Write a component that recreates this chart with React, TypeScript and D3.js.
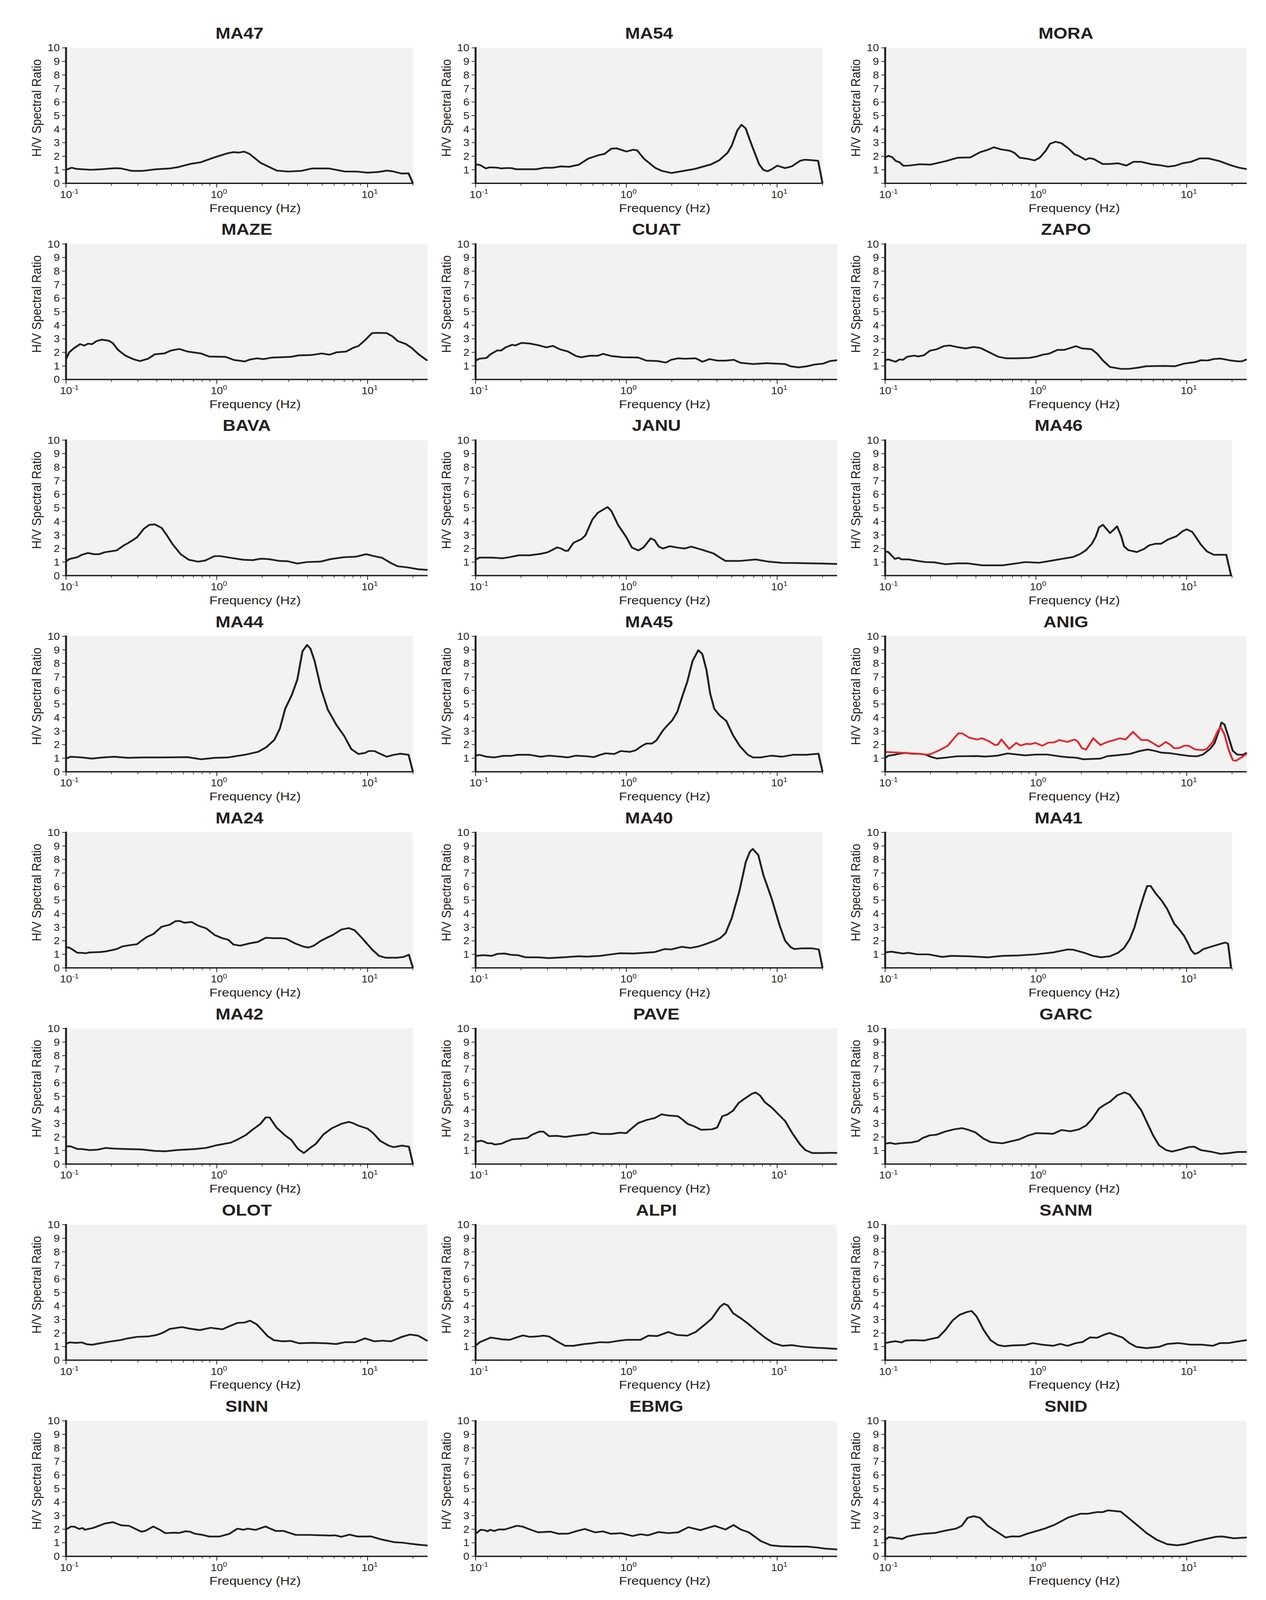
import * as d3 from 'd3';
import React, { useEffect, useState } from 'react';

type Pt = [number, number];

// H/V spectral ratio curves, [frequency Hz, ratio]
const MA47: Pt[] = [[0.1, 1.0], [0.109, 1.15], [0.118, 1.06], [0.146, 1.0], [0.172, 1.04], [0.212, 1.12], [0.231, 1.1], [0.273, 0.92], [0.323, 0.92], [0.398, 1.04], [0.49, 1.1], [0.556, 1.2], [0.66, 1.42], [0.78, 1.55], [0.96, 1.91], [1.18, 2.22], [1.29, 2.3], [1.4, 2.27], [1.52, 2.34], [1.65, 2.17], [1.96, 1.5], [2.5, 0.94], [2.96, 0.87], [3.64, 0.92], [4.3, 1.1], [5.5, 1.1], [7.1, 0.87], [8.4, 0.87], [10, 0.79], [11.8, 0.84], [13.4, 0.94], [14.6, 0.89], [16.9, 0.72], [18.7, 0.74], [20, 0]];
const MA54: Pt[] = [[0.1, 1.4], [0.107, 1.35], [0.117, 1.1], [0.124, 1.18], [0.141, 1.15], [0.147, 1.1], [0.16, 1.13], [0.174, 1.12], [0.185, 1.04], [0.253, 1.04], [0.286, 1.15], [0.325, 1.15], [0.368, 1.25], [0.417, 1.22], [0.483, 1.37], [0.56, 1.83], [0.66, 2.09], [0.716, 2.17], [0.795, 2.56], [0.864, 2.58], [1.0, 2.35], [1.11, 2.48], [1.18, 2.43], [1.31, 1.81], [1.55, 1.15], [1.72, 0.92], [1.99, 0.76], [2.31, 0.89], [2.84, 1.06], [3.65, 1.4], [4.14, 1.71], [4.7, 2.27], [5.0, 2.78], [5.44, 3.9], [5.8, 4.32], [6.18, 4.06], [6.86, 2.68], [7.6, 1.4], [8.1, 0.99], [8.64, 0.89], [9.2, 1.04], [10, 1.3], [11.3, 1.12], [12.5, 1.25], [14.2, 1.66], [15.2, 1.74], [16.9, 1.71], [18.7, 1.66], [20, 0]];
const MORA: Pt[] = [[0.1, 1.89], [0.105, 2.03], [0.111, 1.94], [0.118, 1.64], [0.124, 1.57], [0.132, 1.3], [0.144, 1.31], [0.157, 1.36], [0.171, 1.41], [0.2, 1.38], [0.222, 1.5], [0.253, 1.64], [0.302, 1.89], [0.367, 1.91], [0.426, 2.3], [0.476, 2.46], [0.526, 2.66], [0.59, 2.5], [0.673, 2.4], [0.72, 2.25], [0.78, 1.89], [0.87, 1.82], [0.98, 1.69], [1.06, 1.89], [1.16, 2.4], [1.24, 2.92], [1.35, 3.07], [1.47, 2.97], [1.65, 2.56], [1.8, 2.15], [1.91, 2.04], [2.13, 1.74], [2.27, 1.86], [2.42, 1.79], [2.76, 1.43], [3.08, 1.43], [3.5, 1.48], [3.98, 1.31], [4.44, 1.59], [4.96, 1.59], [5.9, 1.4], [6.7, 1.33], [7.5, 1.23], [8.4, 1.3], [9.37, 1.48], [10.7, 1.59], [12.2, 1.84], [13.9, 1.84], [16.5, 1.64], [19.6, 1.33], [22.3, 1.15], [25, 1.05]];
const MAZE: Pt[] = [[0.1, 1.5], [0.105, 2.0], [0.112, 2.28], [0.124, 2.61], [0.132, 2.5], [0.14, 2.64], [0.149, 2.61], [0.159, 2.83], [0.173, 2.94], [0.192, 2.86], [0.204, 2.69], [0.221, 2.19], [0.246, 1.78], [0.279, 1.5], [0.309, 1.36], [0.35, 1.53], [0.388, 1.86], [0.449, 1.92], [0.498, 2.14], [0.564, 2.25], [0.64, 2.06], [0.786, 1.92], [0.89, 1.69], [1.14, 1.67], [1.3, 1.44], [1.53, 1.33], [1.66, 1.47], [1.84, 1.56], [2.04, 1.5], [2.3, 1.61], [3.1, 1.67], [3.5, 1.78], [4.28, 1.81], [4.95, 1.92], [5.6, 1.83], [6.2, 2.0], [7.2, 2.06], [8.0, 2.33], [8.7, 2.47], [9.6, 2.89], [10.7, 3.42], [11.8, 3.44], [13.4, 3.42], [14.6, 3.19], [15.9, 2.83], [18.0, 2.61], [19.6, 2.33], [21.8, 1.86], [24.5, 1.45], [25, 1.4]];
const CUAT: Pt[] = [[0.1, 1.39], [0.106, 1.53], [0.118, 1.59], [0.126, 1.87], [0.139, 2.14], [0.148, 2.14], [0.158, 2.37], [0.175, 2.56], [0.183, 2.51], [0.202, 2.7], [0.229, 2.65], [0.26, 2.53], [0.294, 2.37], [0.326, 2.48], [0.362, 2.23], [0.41, 2.06], [0.464, 1.73], [0.503, 1.64], [0.57, 1.75], [0.647, 1.75], [0.7, 1.89], [0.795, 1.73], [0.94, 1.64], [1.2, 1.62], [1.36, 1.39], [1.61, 1.36], [1.83, 1.25], [1.98, 1.45], [2.2, 1.56], [2.44, 1.53], [2.88, 1.56], [3.2, 1.31], [3.56, 1.5], [4.03, 1.39], [4.55, 1.39], [5.16, 1.45], [5.72, 1.23], [6.9, 1.14], [8.5, 1.2], [11.3, 1.14], [12.3, 0.97], [13.9, 0.89], [15.7, 0.97], [17.9, 1.11], [20.2, 1.17], [22.4, 1.36], [25, 1.42]];
const ZAPO: Pt[] = [[0.1, 1.42], [0.105, 1.48], [0.117, 1.31], [0.125, 1.48], [0.131, 1.45], [0.14, 1.68], [0.156, 1.76], [0.166, 1.7], [0.181, 1.79], [0.198, 2.12], [0.22, 2.23], [0.245, 2.46], [0.268, 2.51], [0.298, 2.4], [0.34, 2.29], [0.387, 2.4], [0.43, 2.32], [0.5, 1.96], [0.56, 1.68], [0.636, 1.56], [0.74, 1.56], [0.9, 1.59], [1.0, 1.68], [1.12, 1.84], [1.22, 1.9], [1.39, 2.18], [1.54, 2.18], [1.69, 2.32], [1.84, 2.46], [2.02, 2.29], [2.34, 2.23], [2.55, 1.9], [2.78, 1.4], [3.1, 0.92], [3.68, 0.78], [4.1, 0.78], [4.76, 0.87], [5.4, 0.98], [7.0, 1.0], [8.4, 0.98], [9.6, 1.17], [11.4, 1.28], [12.4, 1.42], [13.8, 1.4], [15.1, 1.51], [16.8, 1.54], [19.1, 1.42], [21.8, 1.34], [23.2, 1.34], [25, 1.48]];
const BAVA: Pt[] = [[0.1, 1.03], [0.105, 1.22], [0.119, 1.36], [0.127, 1.53], [0.14, 1.67], [0.153, 1.58], [0.166, 1.58], [0.18, 1.72], [0.217, 1.86], [0.241, 2.22], [0.267, 2.5], [0.296, 2.83], [0.329, 3.47], [0.357, 3.75], [0.388, 3.78], [0.43, 3.53], [0.467, 2.97], [0.508, 2.33], [0.576, 1.58], [0.652, 1.17], [0.753, 1.03], [0.836, 1.11], [0.966, 1.44], [1.05, 1.44], [1.24, 1.31], [1.5, 1.17], [1.73, 1.14], [1.96, 1.25], [2.2, 1.22], [2.62, 1.08], [2.96, 1.06], [3.42, 0.89], [3.95, 1.0], [4.85, 1.03], [5.7, 1.22], [7.0, 1.36], [8.3, 1.39], [9.8, 1.58], [11.0, 1.44], [12.5, 1.31], [14.2, 0.94], [15.8, 0.69], [18.3, 0.61], [21.7, 0.47], [25, 0.42]];
const JANU: Pt[] = [[0.1, 1.17], [0.106, 1.33], [0.128, 1.33], [0.151, 1.28], [0.168, 1.36], [0.194, 1.5], [0.229, 1.5], [0.271, 1.61], [0.3, 1.72], [0.326, 1.92], [0.347, 2.08], [0.369, 2.0], [0.393, 1.83], [0.41, 1.83], [0.446, 2.42], [0.503, 2.69], [0.535, 2.97], [0.595, 4.14], [0.647, 4.64], [0.7, 4.86], [0.75, 5.06], [0.795, 4.78], [0.88, 3.75], [1.0, 2.83], [1.09, 2.06], [1.2, 1.86], [1.3, 2.08], [1.45, 2.75], [1.54, 2.61], [1.64, 2.14], [1.75, 2.0], [1.94, 2.17], [2.2, 2.06], [2.44, 2.0], [2.7, 2.14], [3.14, 1.92], [3.78, 1.64], [4.2, 1.31], [4.55, 1.08], [5.6, 1.08], [7.2, 1.19], [8.8, 1.03], [10.8, 0.94], [15.1, 0.92], [20.2, 0.89], [25, 0.86]];
const MA46: Pt[] = [[0.1, 1.79], [0.105, 1.74], [0.116, 1.23], [0.123, 1.32], [0.128, 1.2], [0.143, 1.2], [0.163, 1.09], [0.185, 1.0], [0.211, 0.98], [0.25, 0.84], [0.298, 0.9], [0.355, 0.9], [0.44, 0.76], [0.6, 0.76], [0.74, 0.9], [0.85, 1.0], [1.05, 0.95], [1.25, 1.09], [1.48, 1.23], [1.76, 1.37], [1.97, 1.6], [2.15, 1.88], [2.35, 2.35], [2.49, 2.86], [2.62, 3.56], [2.78, 3.75], [2.95, 3.42], [3.1, 3.14], [3.3, 3.42], [3.45, 3.64], [3.68, 2.91], [3.84, 2.16], [4.1, 1.88], [4.67, 1.74], [5.2, 1.96], [5.65, 2.24], [6.2, 2.35], [6.75, 2.35], [7.5, 2.66], [8.56, 2.91], [9.4, 3.28], [10.0, 3.42], [10.9, 3.22], [12.4, 2.3], [13.6, 1.79], [15.1, 1.54], [18.3, 1.54], [19.7, 0]];
const MA44: Pt[] = [[0.1, 0.97], [0.107, 1.11], [0.127, 1.06], [0.149, 0.97], [0.176, 1.06], [0.208, 1.11], [0.257, 1.03], [0.329, 1.06], [0.44, 1.06], [0.64, 1.08], [0.786, 0.92], [0.97, 1.03], [1.19, 1.06], [1.53, 1.25], [1.88, 1.47], [2.13, 1.81], [2.41, 2.36], [2.62, 3.19], [2.84, 4.64], [3.15, 5.69], [3.42, 6.8], [3.7, 8.89], [3.97, 9.36], [4.18, 9.08], [4.45, 8.19], [4.92, 6.11], [5.45, 4.58], [6.2, 3.47], [7.0, 2.64], [7.8, 1.67], [8.7, 1.31], [9.6, 1.39], [10.2, 1.53], [11.1, 1.53], [12.1, 1.33], [13.4, 1.11], [14.9, 1.25], [16.5, 1.33], [18.7, 1.25], [20, 0]];
const MA45: Pt[] = [[0.1, 1.19], [0.106, 1.25], [0.118, 1.11], [0.134, 1.06], [0.151, 1.17], [0.171, 1.17], [0.19, 1.25], [0.229, 1.25], [0.271, 1.11], [0.307, 1.19], [0.347, 1.14], [0.41, 1.06], [0.464, 1.19], [0.548, 1.14], [0.607, 1.08], [0.67, 1.25], [0.73, 1.36], [0.83, 1.31], [0.92, 1.53], [1.06, 1.47], [1.15, 1.58], [1.28, 1.94], [1.36, 2.08], [1.48, 2.08], [1.58, 2.31], [1.75, 3.06], [1.86, 3.39], [2.02, 3.81], [2.18, 4.44], [2.37, 5.69], [2.54, 6.67], [2.75, 8.19], [3.0, 8.97], [3.19, 8.69], [3.4, 7.5], [3.6, 5.75], [3.83, 4.64], [4.15, 4.17], [4.6, 3.75], [5.1, 2.69], [5.66, 1.89], [6.4, 1.25], [6.9, 1.06], [7.8, 1.06], [9.2, 1.19], [10.8, 1.11], [12.7, 1.25], [15.6, 1.25], [18.8, 1.33], [20, 0]];
const ANIG_BLACK: Pt[] = [[0.1, 1.02], [0.105, 1.18], [0.115, 1.25], [0.125, 1.34], [0.137, 1.39], [0.149, 1.34], [0.17, 1.32], [0.185, 1.27], [0.202, 1.09], [0.22, 0.98], [0.251, 1.04], [0.299, 1.14], [0.405, 1.16], [0.46, 1.12], [0.55, 1.18], [0.65, 1.35], [0.78, 1.25], [0.85, 1.21], [1.0, 1.27], [1.19, 1.27], [1.43, 1.14], [1.62, 1.07], [1.85, 1.04], [2.06, 0.92], [2.4, 0.95], [2.68, 0.97], [2.98, 1.15], [3.54, 1.23], [4.22, 1.32], [4.8, 1.51], [5.5, 1.64], [6.1, 1.55], [6.8, 1.41], [7.75, 1.37], [8.85, 1.27], [10.5, 1.16], [11.7, 1.14], [12.8, 1.27], [14.3, 1.69], [15.3, 2.11], [16.4, 3.07], [17.0, 3.63], [17.8, 3.49], [19.0, 2.52], [20.2, 1.55], [21.6, 1.27], [23.6, 1.25], [25, 1.41]];
const ANIG_RED: Pt[] = [[0.1, 1.46], [0.125, 1.41], [0.156, 1.35], [0.19, 1.27], [0.2, 1.3], [0.23, 1.6], [0.26, 1.92], [0.28, 2.34], [0.305, 2.83], [0.325, 2.83], [0.36, 2.52], [0.405, 2.38], [0.44, 2.47], [0.49, 2.24], [0.535, 1.97], [0.56, 2.01], [0.59, 2.38], [0.665, 1.69], [0.74, 2.13], [0.79, 1.94], [0.865, 2.06], [0.925, 2.04], [0.99, 2.13], [1.1, 1.92], [1.21, 2.15], [1.32, 2.17], [1.43, 2.34], [1.62, 2.2], [1.8, 2.38], [1.89, 2.24], [2.02, 1.74], [2.15, 1.64], [2.4, 2.47], [2.68, 1.97], [2.98, 2.2], [3.3, 2.34], [3.6, 2.47], [3.93, 2.38], [4.4, 2.94], [5.0, 2.34], [5.5, 2.34], [5.97, 2.11], [6.5, 1.85], [6.8, 1.97], [7.25, 2.2], [7.75, 2.01], [8.25, 1.74], [8.85, 1.74], [9.65, 1.92], [10.3, 1.92], [11.4, 1.64], [12.8, 1.6], [13.6, 1.69], [14.9, 2.2], [16.0, 2.98], [16.8, 3.3], [17.8, 2.75], [19.0, 1.6], [20.2, 0.86], [21.2, 0.81], [22.6, 1.0], [25, 1.32]];
const MA24: Pt[] = [[0.1, 1.53], [0.105, 1.5], [0.112, 1.31], [0.119, 1.11], [0.127, 1.11], [0.135, 1.08], [0.143, 1.14], [0.169, 1.17], [0.184, 1.22], [0.217, 1.39], [0.236, 1.58], [0.262, 1.67], [0.296, 1.75], [0.316, 2.0], [0.343, 2.28], [0.38, 2.5], [0.43, 3.03], [0.488, 3.19], [0.53, 3.44], [0.565, 3.47], [0.61, 3.33], [0.68, 3.39], [0.755, 3.11], [0.85, 2.92], [0.97, 2.42], [1.09, 2.19], [1.19, 2.08], [1.29, 1.72], [1.43, 1.64], [1.65, 1.81], [1.87, 1.92], [2.11, 2.22], [2.38, 2.19], [2.7, 2.19], [2.9, 2.14], [3.3, 1.81], [3.73, 1.58], [4.05, 1.5], [4.4, 1.64], [4.9, 2.0], [5.5, 2.28], [5.9, 2.44], [6.7, 2.83], [7.5, 2.94], [8.2, 2.78], [9.3, 2.14], [10.7, 1.36], [11.9, 0.89], [13.2, 0.75], [15.6, 0.75], [17.3, 0.81], [18.8, 0.97], [20, 0]];
const MA40: Pt[] = [[0.1, 0.89], [0.113, 0.94], [0.128, 0.89], [0.139, 1.03], [0.155, 1.06], [0.171, 0.97], [0.19, 0.94], [0.215, 0.78], [0.26, 0.78], [0.307, 0.72], [0.38, 0.78], [0.483, 0.86], [0.548, 0.83], [0.67, 0.89], [0.795, 1.0], [0.9, 1.08], [1.11, 1.06], [1.31, 1.11], [1.55, 1.17], [1.79, 1.39], [1.98, 1.36], [2.34, 1.56], [2.65, 1.47], [3.0, 1.58], [3.4, 1.78], [3.85, 2.0], [4.18, 2.19], [4.55, 2.56], [5.0, 3.67], [5.6, 5.61], [6.2, 7.83], [6.6, 8.58], [6.9, 8.78], [7.5, 8.33], [8.1, 6.86], [9.2, 5.11], [10.4, 3.11], [11.3, 2.0], [12.3, 1.53], [13.0, 1.39], [14.5, 1.44], [17.1, 1.44], [18.9, 1.36], [20, 0]];
const MA41: Pt[] = [[0.1, 1.14], [0.11, 1.2], [0.123, 1.11], [0.131, 1.06], [0.143, 1.11], [0.163, 1.0], [0.193, 1.0], [0.24, 0.81], [0.273, 0.89], [0.355, 0.86], [0.48, 0.78], [0.6, 0.89], [0.77, 0.92], [1.0, 1.0], [1.3, 1.14], [1.62, 1.36], [1.77, 1.34], [2.1, 1.11], [2.38, 0.89], [2.7, 0.78], [3.1, 0.86], [3.5, 1.11], [3.83, 1.45], [4.2, 2.14], [4.5, 2.98], [4.8, 4.09], [5.25, 5.49], [5.47, 6.04], [5.77, 6.04], [6.23, 5.49], [6.8, 4.99], [7.4, 4.37], [8.26, 3.26], [8.8, 2.92], [9.6, 2.37], [10.3, 1.73], [10.7, 1.31], [11.3, 1.03], [11.9, 1.11], [12.9, 1.39], [14.8, 1.59], [16.5, 1.75], [18.0, 1.87], [18.8, 1.78], [19.7, 0]];
const MA42: Pt[] = [[0.1, 1.31], [0.107, 1.31], [0.119, 1.11], [0.127, 1.11], [0.143, 1.03], [0.162, 1.06], [0.184, 1.19], [0.208, 1.14], [0.246, 1.11], [0.315, 1.08], [0.388, 0.97], [0.458, 0.94], [0.54, 1.03], [0.72, 1.11], [0.85, 1.19], [1.0, 1.39], [1.24, 1.58], [1.4, 1.86], [1.56, 2.14], [1.76, 2.61], [1.95, 2.97], [2.11, 3.44], [2.24, 3.44], [2.49, 2.69], [2.82, 2.14], [3.12, 1.78], [3.46, 1.11], [3.78, 0.81], [4.2, 1.22], [4.55, 1.5], [5.1, 2.19], [5.8, 2.64], [6.7, 2.97], [7.5, 3.11], [7.95, 3.03], [8.7, 2.83], [10.0, 2.61], [10.9, 2.28], [12.1, 1.72], [13.8, 1.36], [14.9, 1.25], [16.9, 1.36], [18.8, 1.28], [20, 0]];
const PAVE: Pt[] = [[0.1, 1.64], [0.109, 1.72], [0.113, 1.67], [0.12, 1.53], [0.128, 1.53], [0.134, 1.44], [0.148, 1.5], [0.158, 1.64], [0.175, 1.83], [0.194, 1.86], [0.22, 1.92], [0.239, 2.19], [0.265, 2.39], [0.282, 2.39], [0.307, 2.06], [0.347, 2.08], [0.393, 2.0], [0.483, 2.14], [0.548, 2.19], [0.595, 2.33], [0.67, 2.22], [0.795, 2.22], [0.9, 2.31], [1.0, 2.28], [1.08, 2.61], [1.2, 3.03], [1.36, 3.25], [1.54, 3.39], [1.71, 3.67], [1.9, 3.58], [2.2, 3.53], [2.34, 3.31], [2.54, 2.97], [2.82, 2.78], [3.13, 2.53], [3.68, 2.56], [4.0, 2.69], [4.33, 3.53], [4.7, 3.67], [5.1, 3.94], [5.55, 4.5], [6.15, 4.86], [6.8, 5.19], [7.2, 5.28], [7.7, 5.06], [8.3, 4.56], [9.2, 4.17], [10.2, 3.67], [11.3, 3.17], [12.6, 2.28], [14.2, 1.44], [15.4, 1.03], [17.1, 0.81], [20.1, 0.81], [23.3, 0.83], [25, 0.81]];
const GARC: Pt[] = [[0.1, 1.5], [0.108, 1.56], [0.117, 1.48], [0.125, 1.53], [0.137, 1.56], [0.149, 1.59], [0.166, 1.7], [0.177, 1.92], [0.198, 2.12], [0.22, 2.17], [0.251, 2.4], [0.286, 2.56], [0.325, 2.65], [0.355, 2.53], [0.396, 2.34], [0.45, 1.87], [0.5, 1.62], [0.6, 1.53], [0.68, 1.67], [0.77, 1.81], [0.88, 2.09], [1.0, 2.28], [1.14, 2.26], [1.3, 2.23], [1.48, 2.51], [1.69, 2.42], [1.93, 2.56], [2.15, 2.84], [2.35, 3.31], [2.62, 4.09], [2.85, 4.37], [3.1, 4.6], [3.46, 5.07], [3.87, 5.29], [4.18, 5.13], [4.6, 4.51], [5.0, 3.96], [5.5, 2.98], [6.0, 2.09], [6.55, 1.39], [7.3, 1.03], [8.0, 0.92], [9.2, 1.09], [10.3, 1.25], [11.2, 1.28], [12.4, 1.03], [14.8, 0.89], [16.8, 0.75], [19.2, 0.81], [21.8, 0.89], [25, 0.89]];
const OLOT: Pt[] = [[0.1, 1.19], [0.105, 1.31], [0.117, 1.28], [0.127, 1.31], [0.138, 1.17], [0.149, 1.14], [0.169, 1.25], [0.192, 1.36], [0.226, 1.47], [0.257, 1.61], [0.296, 1.72], [0.35, 1.75], [0.4, 1.86], [0.44, 2.03], [0.488, 2.31], [0.588, 2.44], [0.66, 2.33], [0.77, 2.22], [0.91, 2.39], [1.0, 2.33], [1.09, 2.28], [1.21, 2.5], [1.37, 2.75], [1.53, 2.78], [1.66, 2.92], [1.84, 2.64], [2.0, 2.22], [2.17, 1.78], [2.4, 1.47], [2.73, 1.39], [3.1, 1.42], [3.5, 1.25], [4.3, 1.28], [5.3, 1.25], [6.2, 1.19], [7.1, 1.33], [8.3, 1.33], [9.6, 1.61], [11.1, 1.39], [12.6, 1.44], [14.3, 1.39], [16.9, 1.72], [19.1, 1.89], [21.6, 1.81], [25, 1.42]];
const ALPI: Pt[] = [[0.1, 1.06], [0.106, 1.31], [0.116, 1.5], [0.126, 1.67], [0.137, 1.61], [0.151, 1.53], [0.168, 1.5], [0.186, 1.67], [0.206, 1.83], [0.229, 1.72], [0.254, 1.75], [0.282, 1.81], [0.307, 1.75], [0.347, 1.39], [0.393, 1.06], [0.446, 1.06], [0.525, 1.19], [0.595, 1.25], [0.67, 1.33], [0.76, 1.31], [0.9, 1.44], [1.0, 1.5], [1.24, 1.5], [1.4, 1.81], [1.6, 1.78], [1.9, 2.08], [2.16, 1.86], [2.54, 1.81], [2.88, 2.08], [3.26, 2.56], [3.68, 3.06], [4.18, 3.94], [4.44, 4.17], [4.72, 4.03], [5.1, 3.47], [5.8, 3.06], [6.5, 2.64], [7.3, 2.17], [8.3, 1.67], [9.5, 1.25], [10.9, 1.06], [12.5, 1.11], [14.6, 1.0], [17.9, 0.92], [20.8, 0.89], [25, 0.83]];
const SANM: Pt[] = [[0.1, 1.26], [0.108, 1.34], [0.117, 1.4], [0.128, 1.31], [0.137, 1.45], [0.156, 1.48], [0.181, 1.45], [0.206, 1.59], [0.225, 1.68], [0.251, 2.23], [0.28, 2.93], [0.312, 3.35], [0.348, 3.55], [0.375, 3.63], [0.405, 3.21], [0.45, 2.23], [0.5, 1.48], [0.56, 1.12], [0.62, 1.03], [0.7, 1.09], [0.85, 1.12], [0.95, 1.26], [1.09, 1.15], [1.3, 1.06], [1.45, 1.2], [1.62, 1.06], [1.84, 1.26], [2.04, 1.34], [2.28, 1.68], [2.54, 1.65], [2.82, 1.87], [3.08, 2.01], [3.43, 1.82], [3.75, 1.68], [4.17, 1.26], [4.64, 0.98], [5.4, 0.89], [6.55, 0.98], [7.45, 1.2], [8.85, 1.26], [10.5, 1.15], [12.5, 1.15], [14.9, 1.06], [16.6, 1.26], [18.9, 1.26], [21.5, 1.37], [25, 1.48]];
const SINN: Pt[] = [[0.1, 1.98], [0.108, 2.2], [0.114, 2.18], [0.122, 2.02], [0.129, 2.09], [0.133, 1.96], [0.151, 2.09], [0.165, 2.25], [0.181, 2.42], [0.205, 2.52], [0.232, 2.29], [0.262, 2.25], [0.315, 1.82], [0.335, 1.87], [0.379, 2.2], [0.416, 1.98], [0.456, 1.71], [0.515, 1.74], [0.565, 1.73], [0.62, 1.85], [0.66, 1.82], [0.72, 1.66], [0.79, 1.6], [0.89, 1.46], [1.04, 1.46], [1.21, 1.66], [1.37, 2.04], [1.51, 1.96], [1.6, 2.04], [1.81, 1.95], [2.1, 2.2], [2.46, 1.87], [2.78, 1.87], [3.34, 1.58], [4.13, 1.58], [5.6, 1.53], [6.1, 1.55], [6.7, 1.44], [7.6, 1.6], [8.6, 1.46], [10.5, 1.47], [12.2, 1.26], [15.1, 1.04], [17.0, 1.01], [19.2, 0.93], [22.3, 0.85], [25, 0.8]];
const EBMG: Pt[] = [[0.1, 1.66], [0.108, 1.96], [0.115, 1.93], [0.12, 1.84], [0.125, 1.96], [0.133, 1.87], [0.142, 1.98], [0.156, 1.98], [0.17, 2.11], [0.187, 2.25], [0.204, 2.2], [0.23, 1.98], [0.26, 1.77], [0.315, 1.82], [0.356, 1.66], [0.414, 1.68], [0.47, 1.87], [0.53, 2.02], [0.62, 1.77], [0.7, 1.84], [0.79, 1.66], [0.92, 1.71], [1.1, 1.5], [1.24, 1.63], [1.39, 1.55], [1.63, 1.79], [1.9, 1.71], [2.21, 1.77], [2.58, 2.15], [3.1, 1.93], [3.85, 2.25], [4.54, 1.98], [5.14, 2.31], [5.73, 1.98], [6.49, 1.77], [7.8, 1.12], [9.1, 0.81], [10.6, 0.74], [12.8, 0.72], [15.8, 0.72], [18.4, 0.65], [20.7, 0.57], [24.2, 0.52], [25, 0.5]];
const SNID: Pt[] = [[0.1, 1.22], [0.106, 1.41], [0.117, 1.35], [0.13, 1.28], [0.14, 1.46], [0.159, 1.58], [0.18, 1.66], [0.216, 1.73], [0.244, 1.87], [0.294, 2.04], [0.322, 2.25], [0.353, 2.85], [0.387, 2.96], [0.425, 2.85], [0.48, 2.25], [0.54, 1.87], [0.63, 1.39], [0.69, 1.47], [0.78, 1.46], [0.87, 1.66], [1.01, 1.87], [1.14, 2.04], [1.32, 2.31], [1.64, 2.87], [1.97, 3.14], [2.23, 3.15], [2.52, 3.26], [2.77, 3.26], [3.0, 3.39], [3.33, 3.34], [3.65, 3.3], [4.38, 2.58], [5.43, 1.71], [6.33, 1.22], [7.4, 0.9], [8.6, 0.81], [9.8, 0.9], [11.5, 1.12], [13.4, 1.28], [15.6, 1.44], [17.1, 1.47], [20.5, 1.33], [25, 1.39]];

const yTicks = [0, 1, 2, 3, 4, 5, 6, 7, 8, 9, 10];
const majorFreqs = [0.1, 1, 10];
const majorExp = ['-1', '0', '1'];

interface Series { data: Pt[]; color: string }
interface Station { name: string; xMax: number; zeroLabel: boolean; series: Series[] }

const BLACK = '#231f20';
const RED = '#e8262c';

const blk = (d: Pt[]): Series[] => [{ data: d, color: BLACK }];

const STATIONS: Station[] = [
  { name: 'MA47', xMax: 20, zeroLabel: true, series: blk(MA47) },
  { name: 'MA54', xMax: 20, zeroLabel: false, series: blk(MA54) },
  { name: 'MORA', xMax: 25, zeroLabel: false, series: blk(MORA) },
  { name: 'MAZE', xMax: 25, zeroLabel: true, series: blk(MAZE) },
  { name: 'CUAT', xMax: 25, zeroLabel: false, series: blk(CUAT) },
  { name: 'ZAPO', xMax: 25, zeroLabel: false, series: blk(ZAPO) },
  { name: 'BAVA', xMax: 25, zeroLabel: true, series: blk(BAVA) },
  { name: 'JANU', xMax: 25, zeroLabel: false, series: blk(JANU) },
  { name: 'MA46', xMax: 20, zeroLabel: false, series: blk(MA46) },
  { name: 'MA44', xMax: 20, zeroLabel: true, series: blk(MA44) },
  { name: 'MA45', xMax: 20, zeroLabel: false, series: blk(MA45) },
  { name: 'ANIG', xMax: 25, zeroLabel: false, series: [{ data: ANIG_BLACK, color: BLACK }, { data: ANIG_RED, color: RED }] },
  { name: 'MA24', xMax: 20, zeroLabel: true, series: blk(MA24) },
  { name: 'MA40', xMax: 20, zeroLabel: false, series: blk(MA40) },
  { name: 'MA41', xMax: 20, zeroLabel: false, series: blk(MA41) },
  { name: 'MA42', xMax: 20, zeroLabel: true, series: blk(MA42) },
  { name: 'PAVE', xMax: 25, zeroLabel: false, series: blk(PAVE) },
  { name: 'GARC', xMax: 25, zeroLabel: false, series: blk(GARC) },
  { name: 'OLOT', xMax: 25, zeroLabel: true, series: blk(OLOT) },
  { name: 'ALPI', xMax: 25, zeroLabel: false, series: blk(ALPI) },
  { name: 'SANM', xMax: 25, zeroLabel: false, series: blk(SANM) },
  { name: 'SINN', xMax: 25, zeroLabel: true, series: blk(SINN) },
  { name: 'EBMG', xMax: 25, zeroLabel: true, series: blk(EBMG) },
  { name: 'SNID', xMax: 25, zeroLabel: true, series: blk(SNID) },
];

const WIDTH = 3241;
const HEIGHT = 4582;
const COL_X = [169, 1217.5, 2266];
const ROW_TOP = 137;
const ROW_PITCH = 561.7;
const DECADE = 386;
const PLOT_H = 388;
const FONT = '"Liberation Sans", Arial, Helvetica, sans-serif';

const Panel = ({ st, x0, y0 }: { st: Station; x0: number; y0: number }) => {
  const w = DECADE * Math.log10(st.xMax / 0.1);
  const x = d3.scaleLog().domain([0.1, st.xMax]).range([0, w]);
  const y = d3.scaleLinear().domain([0, 10]).range([PLOT_H, 0]);
  const line = d3
    .line<Pt>()
    .x((d) => x(d[0]))
    .y((d) => y(d[1]));
  const minor = x.ticks().filter((t) => !majorFreqs.some((m) => Math.abs(m - t) < 1e-9));

  return (
    <g transform={`translate(${x0},${y0})`} fontFamily={FONT} fill={BLACK}>
      <text x={w / 2} y={-26} textAnchor="middle" fontSize={46} fontWeight="bold">
        {st.name}
      </text>
      <rect x={0} y={0} width={w} height={PLOT_H} fill="#f2f2f2" />
      {st.series.map((s, i) => (
        <path
          key={i}
          d={line(s.data) || ''}
          fill="none"
          stroke={s.color}
          strokeWidth={5}
          strokeLinejoin="round"
        />
      ))}
      {/* y axis */}
      <line x1={0} x2={0} y1={-2} y2={PLOT_H + 2} stroke={BLACK} strokeWidth={5} />
      {yTicks.map((t) => (
        <g key={t}>
          <line x1={-10} x2={0} y1={y(t)} y2={y(t)} stroke={BLACK} strokeWidth={2} />
          {(t > 0 || st.zeroLabel) && (
            <text x={-16} y={y(t)} dy="0.36em" textAnchor="end" fontSize={28}>
              {t}
            </text>
          )}
        </g>
      ))}
      {/* x axis */}
      <line x1={0} x2={w} y1={PLOT_H} y2={PLOT_H} stroke={BLACK} strokeWidth={4} />
      {minor.map((t) => (
        <line key={t} x1={x(t)} x2={x(t)} y1={PLOT_H} y2={PLOT_H + 7} stroke={BLACK} strokeWidth={1.6} />
      ))}
      {majorFreqs.map((t, i) => (
        <g key={t}>
          <line x1={x(t)} x2={x(t)} y1={PLOT_H} y2={PLOT_H + 12} stroke={BLACK} strokeWidth={2} />
          <text x={x(t) - 15.5} y={PLOT_H + 42} fontSize={28}>
            10
            <tspan dy={-12} fontSize={19}>
              {majorExp[i]}
            </tspan>
          </text>
        </g>
      ))}
      <text x={484} y={PLOT_H + 82} textAnchor="middle" fontSize={34}>
        Frequency (Hz)
      </text>
      <text
        transform={`translate(-64,${PLOT_H / 2 - 22}) rotate(-90)`}
        textAnchor="middle"
        fontSize={34}
      >
        H/V Spectral Ratio
      </text>
    </g>
  );
};

const App = () => {
  // the browser viewport can be shorter than the figure; fit the whole figure into it
  const [viewH, setViewH] = useState(HEIGHT);
  useEffect(() => {
    setViewH(Math.min(HEIGHT, window.innerHeight || HEIGHT));
  }, []);

  return (
    <div style={{ position: 'absolute', left: 0, top: 0, width: WIDTH, height: viewH, overflow: 'hidden' }}>
      <svg
        width={WIDTH}
        height={viewH}
        viewBox={`0 0 ${WIDTH} ${HEIGHT}`}
        preserveAspectRatio="none"
        style={{ display: 'block', background: '#fff' }}
      >
        {STATIONS.map((st, i) => (
          <Panel
            key={st.name}
            st={st}
            x0={COL_X[i % 3]}
            y0={ROW_TOP + Math.floor(i / 3) * ROW_PITCH}
          />
        ))}
      </svg>
    </div>
  );
};

export default App;
